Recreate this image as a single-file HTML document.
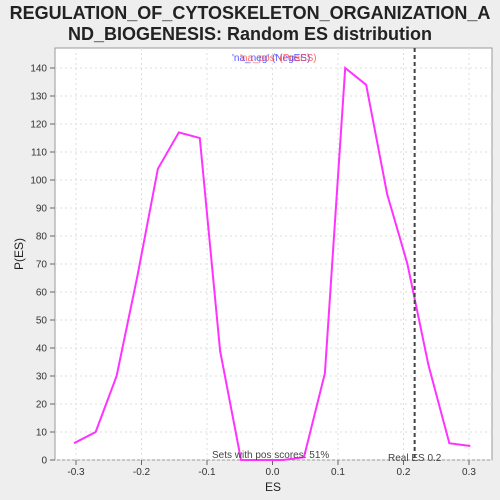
<!DOCTYPE html>
<html><head><style>
body{margin:0;background:#eeeeee;}
svg{display:block;font-family:"Liberation Sans","DejaVu Sans",sans-serif;}
</style></head><body>
<svg width="500" height="500" xmlns="http://www.w3.org/2000/svg">
<rect x="0" y="0" width="500" height="500" fill="#eeeeee"/>
<text x="250" y="19" text-anchor="middle" font-size="18" font-weight="bold" fill="#222">REGULATION_OF_CYTOSKELETON_ORGANIZATION_A</text>
<text x="250" y="40" text-anchor="middle" font-size="18" font-weight="bold" fill="#222">ND_BIOGENESIS: Random ES distribution</text>
<rect x="55" y="48" width="437" height="412" fill="#ffffff" stroke="#999"/>
<g id="grid"></g>
<g id="axes"></g>
<polyline id="curve" fill="none" stroke="#ff33ff" stroke-width="2"/>
<line id="realLine" y1="48" y2="460" stroke="#444" stroke-width="2" stroke-dasharray="4,3"/>
<text x="232" y="61" font-size="10" fill="#5555ff">'na_neg' (NegES)</text>
<text x="240" y="61" font-size="10" fill="#ff4444" opacity="0.8">'na_pos' (PosES)</text>
<text x="212" y="458" font-size="10" fill="#444">Sets with pos scores: 51%</text>
<text x="388" y="461" font-size="10" fill="#444">Real ES 0.2</text>
<text x="273" y="491" text-anchor="middle" font-size="12" fill="#222">ES</text>
<text x="23" y="254" text-anchor="middle" font-size="12" fill="#222" transform="rotate(-90 23 254)">P(ES)</text>
</svg>
<script>
const xs=[-0.303,-0.270,-0.238,-0.206,-0.175,-0.143,-0.111,-0.080,-0.048,-0.016,0.016,0.048,0.080,0.111,0.143,0.175,0.206,0.238,0.270,0.302];
const ys=[6,10,30,66,104,117,115,39,0,0,0,1,31,140,134,95,70,34,6,5];
const xTicks=[-0.3,-0.2,-0.1,0.0,0.1,0.2,0.3];
const yTicks=[0,10,20,30,40,50,60,70,80,90,100,110,120,130,140];
const realES=0.217;
const X=v=>272.5+v*655, Y=v=>460-v*2.8;
const NS="http://www.w3.org/2000/svg";
const grid=document.getElementById('grid'), axes=document.getElementById('axes');
function mk(t,a,p){const e=document.createElementNS(NS,t);for(const k in a)e.setAttribute(k,a[k]);p.appendChild(e);return e;}
xTicks.forEach(t=>{
 const gl=mk('line',{x1:X(t),x2:X(t),y1:48,y2:460,stroke:'#ddd','stroke-dasharray':'2,3'},grid);
 
 
 const tk=mk('line',{x1:X(t),x2:X(t),y1:460,y2:465,stroke:'#666'},axes);
 
 
 const lb=mk('text',{x:X(t),y:475,'text-anchor':'middle','font-size':10,fill:'#333'},axes);
 lb.textContent=t.toFixed(1);
 
 
});
yTicks.forEach(t=>{
 const gl=mk('line',{x1:55,x2:492,y1:Y(t),y2:Y(t),stroke:'#ddd','stroke-dasharray':'2,3'},grid);
 
 
 const tk=mk('line',{x1:50,x2:55,y1:Y(t),y2:Y(t),stroke:'#666'},axes);
 
 
 const lb=mk('text',{x:47,y:Y(t)+3.5,'text-anchor':'end','font-size':10,fill:'#333'},axes);
 lb.textContent=t;
 
 
});
document.getElementById('curve').setAttribute('points',xs.map((x,i)=>X(x)+','+Y(ys[i])).join(' '));
const rl=document.getElementById('realLine');rl.setAttribute('x1',X(realES));rl.setAttribute('x2',X(realES));
</script>
</body></html>
